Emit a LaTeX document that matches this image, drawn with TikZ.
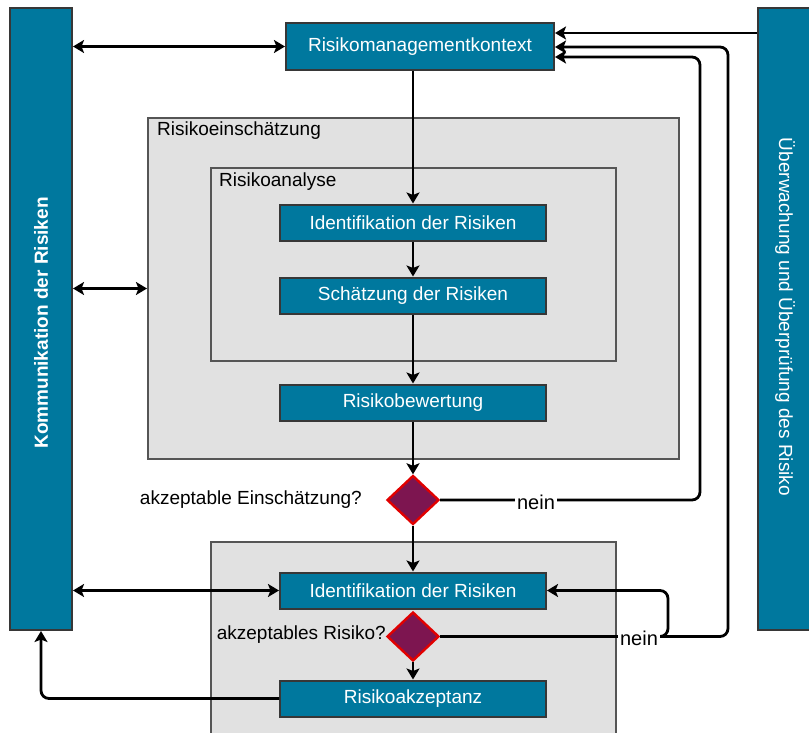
\documentclass[tikz,border=0pt]{standalone}
\usepackage{fontspec}
\setmainfont{Liberation Sans}
\usetikzlibrary{arrows.meta,shapes.geometric}
\definecolor{boxblue}{RGB}{0,120,158}
\definecolor{boxedge}{RGB}{55,55,55}
\definecolor{panelgray}{RGB}{225,225,225}
\definecolor{paneledge}{RGB}{85,85,85}
\definecolor{diafill}{RGB}{125,21,80}
\definecolor{diaedge}{RGB}{225,0,0}
\begin{document}
\begin{tikzpicture}[x=1pt,y=-1pt,
  txt/.style={font=\fontsize{19}{22}\selectfont},
  bluebox/.style={txt,draw=boxedge,line width=2pt,fill=boxblue,text=white,
    minimum width=266pt,minimum height=36pt,inner sep=0pt},
  sidebar/.style={draw=boxedge,line width=2pt,fill=boxblue,anchor=north west,inner sep=0pt},
  panel/.style={draw=paneledge,line width=2pt,fill=panelgray,anchor=north west,inner sep=0pt},
  decision/.style={diamond,draw=diaedge,line width=2.4pt,fill=diafill,
    minimum width=52pt,minimum height=49pt,inner sep=0pt},
  plainlbl/.style={txt,inner sep=0pt},
  neinlbl/.style={font=\fontsize{20}{23}\selectfont,fill=white,inner sep=2pt},
  conn/.style={line width=2.8pt,-{Stealth[length=11pt,width=13pt,inset=2.5pt]},rounded corners=8pt},
  dbl/.style={line width=2.8pt,{Stealth[length=11pt,width=13pt,inset=2.5pt]}-{Stealth[length=11pt,width=13pt,inset=2.5pt]}}
]
\clip (0,0) rectangle (809,733);
\fill[white] (0,0) rectangle (809,733);

% side bars
\node[sidebar,minimum width=62pt,minimum height=622pt] (komm) at (9,7) {};
\node[sidebar,minimum width=80pt,minimum height=622pt] (ueb) at (757,7) {};
\node[txt,rotate=90,text=white,font=\fontsize{19}{22}\selectfont\bfseries] (kommlbl) at (41,323) {Kommunikation der Risiken};
\node[txt,rotate=-90,text=white] (ueblbl) at (785,317) {Überwachung und Überprüfung des Risiko};

% panels
\node[panel,minimum width=531pt,minimum height=341pt] (einsch) at (147,117) {};
\node[panel,minimum width=405pt,minimum height=193pt] (analyse) at (210,167) {};
\node[panel,minimum width=405pt,minimum height=250pt] (panel2) at (210,541) {};
\node[plainlbl,anchor=west] (einschlbl) at (157,131) {Risikoeinschätzung};
\node[plainlbl,anchor=west] (analyselbl) at (219,182) {Risikoanalyse};

% boxes
\node[bluebox,minimum width=268pt,minimum height=47pt] (ctx) at (420,46.5) {Risikomanagementkontext};
\node[bluebox] (id1) at (413,222.5) {Identifikation der Risiken};
\node[bluebox] (sch) at (413,295.5) {Schätzung der Risiken};
\node[bluebox] (bew) at (413,402.5) {Risikobewertung};
\node[decision] (d1) at (413,500) {};
\node[bluebox] (id2) at (413,590.5) {Identifikation der Risiken};
\node[decision] (d2) at (413,636.5) {};
\node[bluebox] (akz) at (413,698.5) {Risikoakzeptanz};

\node[plainlbl,anchor=east] (q1) at (362,500) {akzeptable Einschätzung?};
\node[plainlbl,anchor=east] (q2) at (386,635) {akzeptables Risiko?};

% vertical flow
\draw[conn] (ctx.south -| id1.north) -- (id1.north);
\draw[conn] (id1.south) -- (sch.north);
\draw[conn] (sch.south) -- (bew.north);
\draw[conn] (bew.south) -- (d1.north);
\draw[conn] (d1.south) -- (id2.north);
\draw[conn] (d2.south) -- (akz.north);

% communication arrows
\draw[dbl] (komm.east |- ctx.west) -- (ctx.west);
\draw[dbl] (komm.east |- einsch.west) -- (einsch.west);
\draw[dbl] (komm.east |- id2.west) -- (id2.west);
\draw[conn] (akz.west) -| (komm.south);

% monitoring / feedback arrows
\draw[conn] (ueb.west |- 0,33) -- (ctx.east |- 0,33);
\draw[conn] (d1.east) -- (700,500) -- (700,57) -- (ctx.east |- 0,57);
\draw[conn] (d2.east) -- (728,636.5) -- (728,47) -- (ctx.east |- 0,47);
\draw[conn] (d2.east) -- (668,636.5) -- (668,590.5) -- (id2.east);

\node[neinlbl] (nein1) at (536,502) {nein};
\node[neinlbl] (nein2) at (639,638) {nein};
\end{tikzpicture}
\end{document}
